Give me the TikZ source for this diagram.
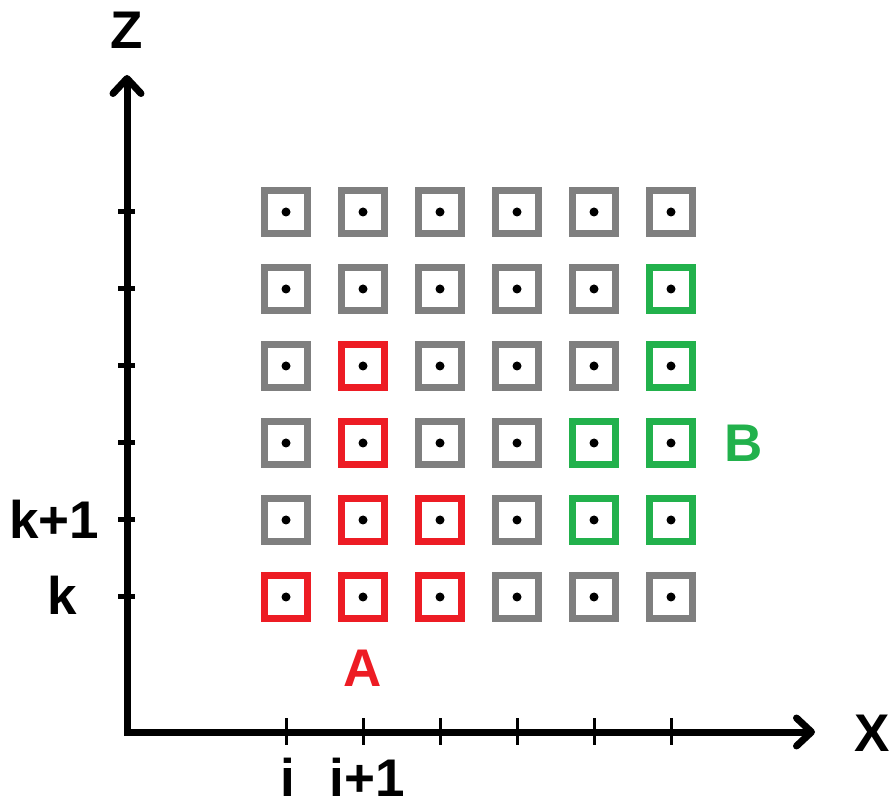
\documentclass[tikz,border=0pt]{standalone}
\usepackage{fontspec}
\setmainfont{Liberation Sans}
\usetikzlibrary{arrows.meta,positioning,calc}
\definecolor{sqgray}{RGB}{127,127,127}
\definecolor{sqred}{RGB}{237,28,36}
\definecolor{sqgreen}{RGB}{34,177,76}
\tikzset{
  cell/.style={draw, line width=7pt, minimum size=43pt, inner sep=0pt},
  axis/.style={line width=7pt, {Straight Barb[length=15pt,width=28pt,round]}-{Straight Barb[length=15pt,width=28pt,round]}},
  xtck/.style={line width=3pt},
  ztck/.style={line width=5pt},
  lbl/.style={font=\fontsize{53}{60}\selectfont\bfseries, inner sep=0pt},
}
\begin{document}
\begin{tikzpicture}[x=1pt,y=1pt]
  \useasboundingbox (0,0) rectangle (895,807);
  % axes
  \coordinate (O) at (127,75);
  \coordinate (ztip) at (127,732);
  \coordinate (xtip) at (815,75);
  \draw[axis] (ztip) -- (O) -- (xtip);
  \node[lbl] (zlab) at (127,777) {Z};
  \node[lbl] (xlab) at (872,74) {X};
  % grid of cells, row by row from the bottom
  \foreach \r/\cols in {
      1/{red,red,red,gray,gray,gray},
      2/{gray,red,red,gray,green,green},
      3/{gray,red,gray,gray,green,green},
      4/{gray,red,gray,gray,gray,green},
      5/{gray,gray,gray,gray,gray,green},
      6/{gray,gray,gray,gray,gray,gray}} {
    \foreach \col [count=\c] in \cols {
      \node[cell, draw=sq\col] (c\c-\r) at ({286+77*(\c-1)},{210+77*(\r-1)}) {};
      \fill (c\c-\r) circle (4.5pt);
    }
  }
  % ticks
  \foreach \c in {1,...,6}
    \draw[xtck] ($(c\c-1 |- O)+(0,14)$) -- ++(0,-27);
  \foreach \r in {1,...,6}
    \draw[ztck] ($(O |- c1-\r)+(-9,0)$) -- ++(17,0);
  \node[lbl] (klab) at (62,212) {k};
  \node[lbl] (k1lab) at (54,288) {k+1};
  \node[lbl, anchor=base] (ilab) at (288,11) {i};
  \node[lbl, anchor=base] (i1lab) at (367,11) {i+1};
  \node[lbl, text=sqred, below=28pt of c2-1] (alab) {A};
  \node[lbl, text=sqgreen, right=28pt of c6-3] (blab) {B};
\end{tikzpicture}
\end{document}
